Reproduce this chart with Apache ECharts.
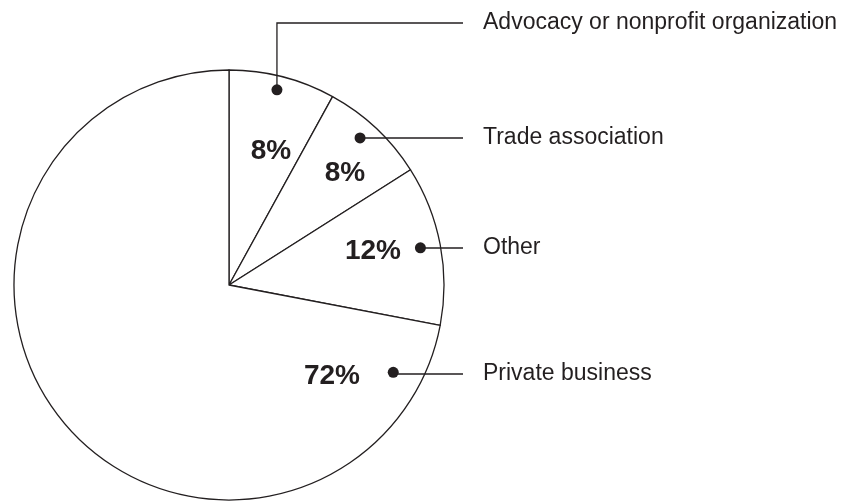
<!DOCTYPE html>
<html>
<head>
<meta charset="utf-8">
<script src="https://cdn.jsdelivr.net/npm/echarts@6/dist/echarts.min.js"></script>
<style>
  html, body { margin: 0; padding: 0; background: #fff; }
  #main { width: 857px; height: 501px; }
</style>
</head>
<body>
<div id="main"></div>
<script>
// slices, clockwise from 12 o'clock
const categories = ['Advocacy or nonprofit organization', 'Trade association', 'Other', 'Private business']
const shares = [8, 8, 12, 72]

// where the dot of each callout sits: [radius px, angle deg clockwise from top]
const dotRadius = [201, 197, 195, 186]
const dotAngle = [13.8, 41.7, 79, 118]

const cx = 229
const cy = 285
const R = 215
const ink = '#231f20'
const font = '"Liberation Sans", Arial, Helvetica, sans-serif'

// pixel spots for the bold percentages and the callout rows
const pctPos = [[271, 151], [345, 173], [373, 251], [332, 376]]
const rowY = [23, 138, 248, 374]
const lineEndX = 463
const textX = 483

function dotPixel (i) {
  const a = dotAngle[i] * Math.PI / 180
  return [cx + dotRadius[i] * Math.sin(a), cy - dotRadius[i] * Math.cos(a)]
}

const pieData = categories.map((name, i) => ({ name, value: shares[i] }))

const myChart = echarts.init(document.getElementById('main'))

const option = {
  backgroundColor: '#fff',
  animation: false,
  polar: { center: [cx, cy], radius: R },
  angleAxis: { type: 'value', min: 0, max: 360, startAngle: 90, clockwise: true, show: false },
  radiusAxis: { type: 'value', min: 0, max: R, show: false },
  series: [
    {
      type: 'pie',
      z: 2,
      center: [cx, cy],
      radius: [0, R],
      startAngle: 90,
      clockwise: true,
      silent: true,
      avoidLabelOverlap: false,
      itemStyle: { color: '#fff', borderColor: ink, borderWidth: 1.3 },
      label: {
        show: true,
        position: 'inside',
        formatter: '{c}%',
        color: ink,
        fontFamily: font,
        fontWeight: 'bold',
        fontSize: 28
      },
      labelLine: { show: false },
      labelLayout: (params) => ({
        x: pctPos[params.dataIndex][0],
        y: pctPos[params.dataIndex][1],
        align: 'center',
        verticalAlign: 'middle'
      }),
      data: pieData
    },
    {
      type: 'pie',
      z: 5,
      center: [cx, cy],
      radius: [0, R],
      startAngle: 90,
      clockwise: true,
      silent: true,
      avoidLabelOverlap: false,
      itemStyle: { color: 'transparent', borderWidth: 0 },
      label: {
        show: true,
        position: 'outside',
        formatter: '{b}',
        color: ink,
        fontFamily: font,
        fontSize: 23
      },
      labelLine: { show: true, lineStyle: { color: ink, width: 1.3 } },
      labelLayout: (params) => {
        const i = params.dataIndex
        const d = dotPixel(i)
        const y = rowY[i]
        return {
          x: textX,
          y: y,
          align: 'left',
          verticalAlign: 'middle',
          labelLinePoints: [d, [d[0], y], [lineEndX, y]]
        }
      },
      data: pieData
    },
    {
      type: 'scatter',
      z: 6,
      coordinateSystem: 'polar',
      symbol: 'circle',
      symbolSize: 11,
      silent: true,
      itemStyle: { color: ink, opacity: 1 },
      data: dotRadius.map((r, i) => [r, dotAngle[i]])
    }
  ]
}

myChart.setOption(option)
</script>
</body>
</html>
